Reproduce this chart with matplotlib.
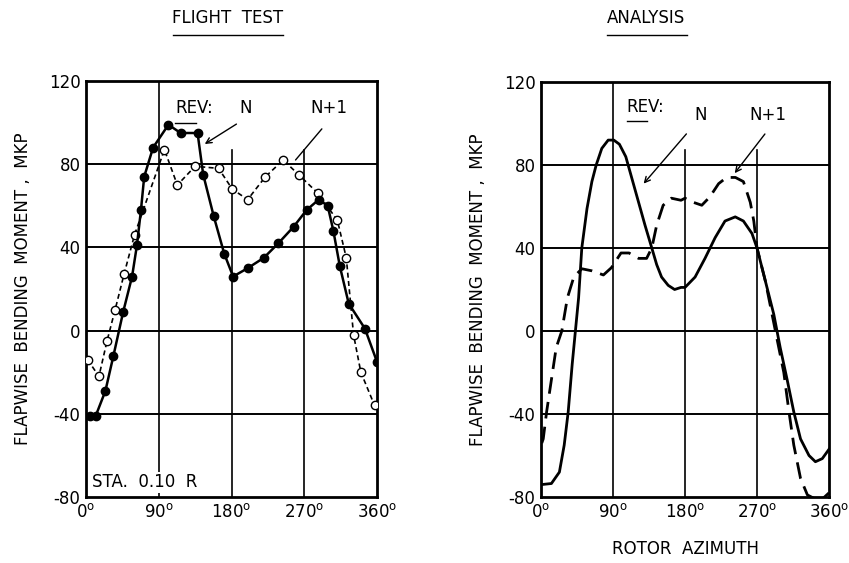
import matplotlib
matplotlib.use("Agg")
import matplotlib.pyplot as plt
from matplotlib.lines import Line2D

plt.rcParams['font.family'] = ['Liberation Sans Narrow', 'DejaVu Sans']
plt.rcParams['axes.unicode_minus'] = False

# flight test, blade station 0.10 R
test_az_n = [5, 12, 24, 34, 46, 57, 63, 68, 72, 83, 102, 117, 138, 145, 158, 171, 182,
             200, 220, 238, 257, 273, 288, 299, 306, 314, 325, 345, 360]
test_m_n = [-41, -41, -29, -12, 9, 26, 41, 58, 74, 88, 99, 95, 95, 75, 55, 37, 26,
            30, 35, 42, 50, 58, 63, 60, 48, 31, 13, 1, -15]
test_az_n1 = [2, 16, 26, 36, 47, 60, 97, 113, 135, 164, 181, 200, 222, 244, 263, 287,
              311, 322, 331, 340, 357]
test_m_n1 = [-14, -22, -5, 10, 27, 46, 87, 70, 79, 78, 68, 63, 74, 82, 75, 66,
             53, 35, -2, -20, -36]

# analysis
ana_az_n = [1, 13, 23, 29, 34, 39, 43, 47, 51, 57.5, 63.6, 69, 76, 84, 91, 98, 106, 114,
            122, 130, 138.5, 144.6, 150.7, 159, 167, 175, 180, 192.6, 205, 217.7, 230,
            242.8, 253, 263.7, 270, 280.5, 291, 299, 307.7, 316, 324.4, 335, 343, 351.6, 360]
ana_m_n = [-74, -73.5, -68, -55, -39, -16, 0, 16, 40, 59, 72, 80, 88, 92, 92, 90, 84, 73,
           62, 51, 40, 32, 26, 22, 20, 21, 21, 26, 35, 45, 53,
           55, 53, 47, 40, 24, 8, -8, -23.5, -39, -52, -60, -63, -61.5, -57]
ana_az_n1 = [1, 2.8, 7, 13, 19, 26, 33, 41, 51, 63.6, 78, 88, 100, 110, 122, 132, 138.5,
             144.6, 152.7, 163, 175, 180, 190.5, 201, 211, 222, 232, 243, 253, 261.6,
             266, 270, 280.5, 293, 303.5, 310, 316, 324.4, 333, 343, 351.6, 360]
ana_m_n1 = [-54, -52, -39, -23.5, -8, 0, 16, 26, 30, 29, 27, 30.5, 37.6, 37.6, 35, 35, 40,
            51, 60.6, 64, 63, 64, 62, 60.6, 64.6, 71, 74, 74, 72, 62,
            53, 40, 24, 0, -20, -39, -55, -71, -79, -81, -81, -78]

x_ticks = [0, 90, 180, 270, 360]
y_ticks = [-80, -40, 0, 40, 80, 120]
x_labels = [f"{v}$^\\mathsf{{o}}$" for v in x_ticks]
ylabel = "FLAPWISE  BENDING  MOMENT ,  MKP"

fig = plt.figure(figsize=(8.49, 5.63), dpi=100)
ax1 = fig.add_axes([86 / 849, 1 - 497 / 563, 291 / 849, 416 / 563])
ax2 = fig.add_axes([541 / 849, 1 - 497 / 563, 288 / 849, 415 / 563])


def frame(ax):
    ax.set_xlim(0, 360)
    ax.set_ylim(-80, 120)
    ax.set_xticks(x_ticks)
    ax.set_xticklabels(x_labels)
    ax.set_yticks(y_ticks)
    ax.tick_params(length=0, labelsize=12, pad=4)
    for s in ax.spines.values():
        s.set_linewidth(2)
    for v in [-40, 0, 40, 80]:
        ax.axhline(v, color='black', lw=1.4, zorder=1)
    ax.axvline(90, color='black', lw=1.2, zorder=1)
    for v in [180, 270]:
        ax.axvline(v, ymax=(87 + 80) / 200, color='black', lw=1.2, zorder=1)
    ax.set_ylabel(ylabel, fontsize=12, labelpad=12)


frame(ax1)
frame(ax2)

# flight test panel
ax1.plot(test_az_n1, test_m_n1, color='black', lw=1.2, ls=(0, (3, 2)),
         marker='o', ms=6, mfc='white', mec='black', mew=1, zorder=3)
ax1.plot(test_az_n, test_m_n, color='black', lw=1.8,
         marker='o', ms=6, mfc='black', mec='black', zorder=4)
ax1.text(8, -73, "STA.  0.10  R", fontsize=12, va='center', ha='left',
         bbox=dict(facecolor='white', edgecolor='none', pad=1), zorder=2)
ax1.text(110, 107, "REV:", fontsize=12, va='center')
ax1.plot([110, 136], [100, 100], color='black', lw=1)
ax1.text(197, 107, "N", fontsize=12, va='center', ha='center')
ax1.text(300, 107, "N+1", fontsize=12, va='center', ha='center')
ax1.annotate("", xy=(144, 89), xytext=(189, 100),
             arrowprops=dict(arrowstyle='->', lw=1, color='black'))
ax1.annotate("", xy=(257, 81), xytext=(294, 98),
             arrowprops=dict(arrowstyle='-', lw=1, color='black'))

# analysis panel
ax2.plot(ana_az_n, ana_m_n, color='black', lw=2)
ax2.plot(ana_az_n1, ana_m_n1, color='black', lw=2, ls=(0, (6, 3)))
ax2.set_xlabel("ROTOR  AZIMUTH", fontsize=12, labelpad=14)
ax2.text(107, 108, "REV:", fontsize=12, va='center')
ax2.plot([107, 133], [101, 101], color='black', lw=1)
ax2.text(199, 104, "N", fontsize=12, va='center', ha='center')
ax2.text(284, 104, "N+1", fontsize=12, va='center', ha='center')
ax2.annotate("", xy=(126, 70), xytext=(184, 96),
             arrowprops=dict(arrowstyle='->', lw=1, color='black'))
ax2.annotate("", xy=(240, 75), xytext=(282, 96),
             arrowprops=dict(arrowstyle='->', lw=1, color='black'))

# panel titles
fig.text(228 / 849, 1 - 18 / 563, "FLIGHT  TEST", fontsize=12, ha='center', va='center')
fig.add_artist(Line2D([173 / 849, 283 / 849], [1 - 35 / 563] * 2, color='black', lw=1))
fig.text(646 / 849, 1 - 18 / 563, "ANALYSIS", fontsize=12, ha='center', va='center')
fig.add_artist(Line2D([607 / 849, 687 / 849], [1 - 35 / 563] * 2, color='black', lw=1))

fig.savefig("out.png", dpi=100)
